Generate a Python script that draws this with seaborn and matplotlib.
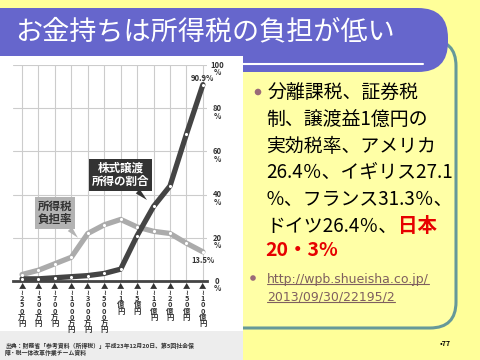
import matplotlib
matplotlib.use('Agg')
import numpy as np
import pandas as pd
import matplotlib.pyplot as plt
import seaborn as sns
from matplotlib.patches import FancyBboxPatch, Rectangle, Circle
from matplotlib.lines import Line2D

# data
brackets = ['250万円', '500万円', '700万円', '1000万円', '3000万円', '5000万円',
            '1億円', '5億円', '10億円', '20億円', '50億円', '100億円']
income_tax_rate = [3.0, 5.0, 8.0, 11.0, 22.0, 26.0, 28.5, 25.0, 23.0, 22.0, 17.5, 13.5]
stock_gain_share = [1.0, 1.0, 1.5, 2.0, 2.5, 3.5, 5.5, 21.0, 34.5, 44.0, 68.0, 90.9]
y_ticks = [0, 20, 40, 60, 80, 100]

sns.set_theme(style='white')
plt.rcParams['font.family'] = ['Noto Sans CJK JP', 'DejaVu Sans']

BG = '#FFFF99'
PURPLE = '#6666CC'
TEAL = '#669999'
DARK = '#444444'
LIGHT = '#ABABAB'

fig = plt.figure(figsize=(4.8, 3.6), dpi=100)
fig.patch.set_facecolor(BG)
inch = fig.dpi_scale_trans


def box(x0, y0, x1, y1):
    # slide pixel coords (top-left origin) -> inches
    return (x0 / 100, (360 - y1) / 100), (x1 - x0) / 100, (y1 - y0) / 100


# right hand panel
xy, w, h = box(215, 40, 456, 328)
fig.add_artist(FancyBboxPatch(xy, w, h, boxstyle='round,pad=0,rounding_size=0.26',
                              fc='#FFFFA6', ec=TEAL, lw=2.2, transform=inch, zorder=1))
# title bar
xy, w, h = box(-40, 8, 448, 72)
fig.add_artist(FancyBboxPatch(xy, w, h, boxstyle='round,pad=0,rounding_size=0.3',
                              fc=PURPLE, ec='none', transform=inch, zorder=2))
fig.add_artist(Line2D([0, 4.23], [(360 - 64) / 100] * 2, color='white', lw=1.5,
                      transform=inch, zorder=2))
fig.text(15 / 480, 1 - 32 / 360, 'お金持ちは所得税の負担が低い', color='white',
         fontsize=19.5, va='center', ha='left', zorder=6)

# chart picture background
xy, w, h = box(0, 56, 243, 360)
fig.add_artist(Rectangle(xy, w, h, fc='white', ec='none', transform=inch, zorder=3))
xy, w, h = box(0, 331, 243, 360)
fig.add_artist(Rectangle(xy, w, h, fc='#EDEDED', ec='none', transform=inch, zorder=3))
fig.text(5 / 480, 1 - 349.5 / 360,
         '出典：財務省「参考資料（所得税）」平成23年12月20日、第5回社会保\n障・税一体改革作業チーム資料',
         fontsize=4.2, fontweight='bold', color='#333333', va='center', ha='left',
         linespacing=1.15, zorder=6)

# chart axes
ax = fig.add_axes([13 / 480, 1 - 281 / 360, 194 / 480, 216 / 360])
ax.set_zorder(5)
ax.patch.set_alpha(0)

x = np.arange(len(brackets))
df = pd.DataFrame({
    'x': np.concatenate([x, x]),
    'value': income_tax_rate + stock_gain_share,
    'series': ['所得税負担率'] * len(x) + ['株式譲渡所得の割合'] * len(x),
})
sns.lineplot(data=df, x='x', y='value', hue='series',
             palette={'所得税負担率': LIGHT, '株式譲渡所得の割合': DARK},
             linewidth=3.8, legend=False, ax=ax, clip_on=False)
sns.scatterplot(data=df, x='x', y='value', color='white', s=5, linewidth=0,
                legend=False, ax=ax, zorder=5, clip_on=False)

ax.set_xlim(-0.55, 11.25)
ax.set_ylim(0, 100)
ax.set_xlabel('')
ax.set_ylabel('')
ax.grid(True, color='#CCCCCC', linewidth=0.8)
ax.set_axisbelow(True)
for s in ['top', 'left', 'right']:
    ax.spines[s].set_visible(False)
ax.spines['bottom'].set_color(DARK)
ax.spines['bottom'].set_linewidth(2)

stacked = ['▲\n' + '\n'.join(['≀'] + list(b)) for b in brackets]
ax.set_xticks(x, labels=stacked, fontsize=5.3, fontweight='bold', color='#333333',
              linespacing=0.88, va='top')
ax.tick_params(axis='x', length=0, pad=1)
ax.set_yticks(y_ticks, labels=[''] * len(y_ticks))
ax.tick_params(axis='y', length=0)
for v in y_ticks:
    ax.annotate(f'{v}\n%', xy=(1, v), xycoords=('axes fraction', 'data'),
                xytext=(7.5, 3), textcoords='offset points', ha='center', va='top',
                fontsize=5.5, fontweight='bold', color='#333333', linespacing=0.8)

ax.annotate('90.9%', xy=(x[-1], stock_gain_share[-1]), xytext=(0, 1),
            textcoords='offset points', ha='center', va='bottom',
            fontsize=5.5, fontweight='bold', color='#333333')
ax.annotate('13.5%', xy=(x[-1], income_tax_rate[-1]), xytext=(0, -3),
            textcoords='offset points', ha='center', va='top',
            fontsize=5.5, fontweight='bold', color='#333333')

ax.annotate('株式譲渡\n所得の割合', xy=(7.6, 37.5), xytext=(6.0, 49),
            ha='center', va='center', fontsize=8.3, fontweight='bold', color='white',
            linespacing=1.05,
            bbox=dict(boxstyle='square,pad=0.25', fc='#333333', ec='none'),
            arrowprops=dict(arrowstyle='wedge,tail_width=0.5,shrink_factor=0.5',
                            fc='#333333', ec='none', shrinkA=0, shrinkB=0))
ax.annotate('所得税\n負担率', xy=(3.4, 20), xytext=(2.0, 31.5),
            ha='center', va='center', fontsize=8.3, fontweight='bold', color='#333333',
            linespacing=1.05,
            bbox=dict(boxstyle='square,pad=0.25', fc='#B3B3B3', ec='none'),
            arrowprops=dict(arrowstyle='wedge,tail_width=0.5,shrink_factor=0.5',
                            fc='#B3B3B3', ec='none', shrinkA=0, shrinkB=0))

# panel text
BULLET = '#9A6A78'
fig.add_artist(Circle((258 / 100, (360 - 92) / 100), 0.033, fc=BULLET, ec='none',
                      transform=inch, zorder=6))
lines = ['分離課税、証券税', '制、譲渡益1億円の', '実効税率、アメリカ',
         '26.4％、イギリス27.1', '％、フランス31.3％、', 'ドイツ26.4％、']
y_lines = [92, 119, 146, 172, 199, 226]
texts = []
for txt, yy in zip(lines, y_lines):
    texts.append(fig.text((266 if yy > 92 else 268) / 480, 1 - yy / 360, txt,
                          fontsize=13.6, va='center', ha='left',
                          color='black', zorder=6))
fig.text(265 / 480, 1 - 251 / 360, '20・3%', fontsize=14, fontweight='bold',
         color='#E60000', va='center', ha='left', zorder=6)

LINK = '#7F5F5F'
fig.add_artist(Circle((253 / 100, (360 - 278) / 100), 0.028, fc=BULLET, ec='none',
                      transform=inch, zorder=6))
links = [fig.text(267 / 480, 1 - 279 / 360, 'http://wpb.shueisha.co.jp/', fontsize=9,
                  family=['DejaVu Sans'], color=LINK, va='center', ha='left', zorder=6),
         fig.text(267 / 480, 1 - 297 / 360, '2013/09/30/22195/2', fontsize=9,
                  family=['DejaVu Sans'], color=LINK, va='center', ha='left', zorder=6)]
fig.text(445 / 480, 1 - 344 / 360, '•77', fontsize=5, fontweight='bold',
         color='black', va='center', ha='center', zorder=6)

fig.canvas.draw()
r = fig.canvas.get_renderer()
bb = texts[-1].get_window_extent(r)
fig.text(bb.x1 / 480 + 0.002, 1 - 226 / 360, '日本', fontsize=14, fontweight='bold',
         color='#E60000', va='center', ha='left', zorder=6)
for t in links:
    bb = t.get_window_extent(r)
    fig.add_artist(Line2D([bb.x0, bb.x1], [bb.y0 + 1.5, bb.y0 + 1.5], color=LINK,
                          lw=0.8, transform=None, zorder=6))

fig.savefig('out.png', dpi=100, facecolor=BG)
